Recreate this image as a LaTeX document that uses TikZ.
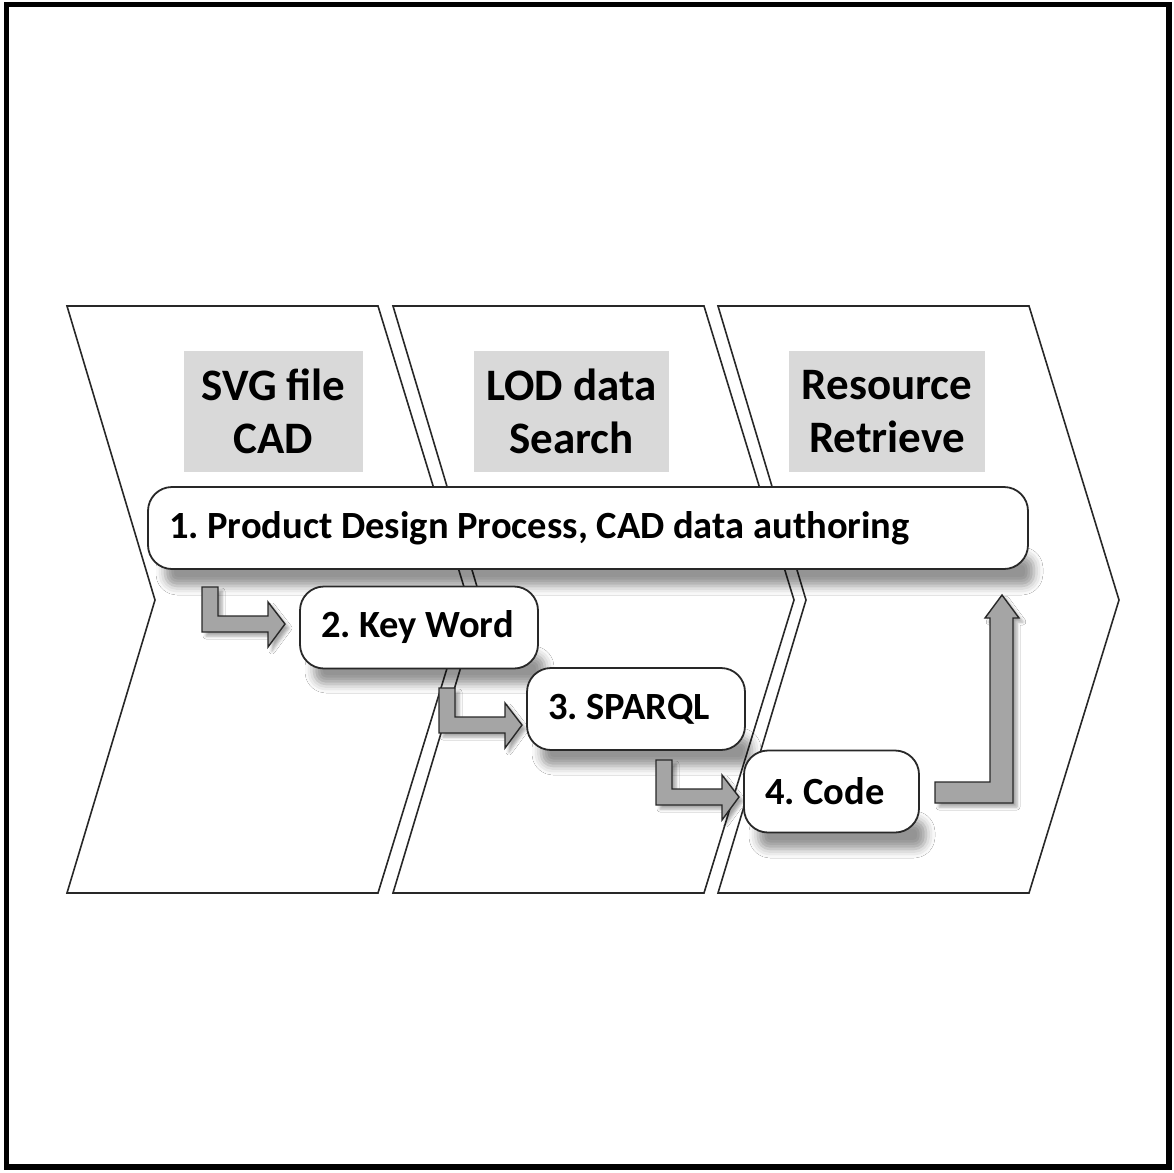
\documentclass[tikz,border=0pt]{standalone}
\usepackage{fontspec}
\setmainfont{Carlito}
\usetikzlibrary{shadows.blur}
\definecolor{hdrgray}{RGB}{217,217,217}
\definecolor{arrgray}{RGB}{165,165,165}
\definecolor{edgec}{RGB}{40,40,40}
\begin{document}
\begin{tikzpicture}[x=1pt,y=-1pt,
  chev/.style={draw=edgec, line width=1.6pt, fill=white, line join=miter},
  hdr/.style={fill=hdrgray, minimum height=121pt, inner sep=0pt, align=center, font=\fontsize{45}{53}\selectfont\bfseries},
  stepbox/.style={draw=edgec, line width=1.8pt, fill=white, rounded corners=24pt, minimum height=82pt, inner xsep=21pt, inner ysep=0pt, align=flush left, font=\fontsize{38.5}{46}\selectfont\bfseries\frenchspacing},
  boxshadow/.style={blur shadow={shadow xshift=0pt, shadow yshift=0pt, shadow blur radius=9pt, shadow opacity=42}, rounded corners=12pt},
  barrow/.style={draw=edgec, line width=1.4pt, fill=arrgray, line join=miter, blur shadow={shadow xshift=4pt, shadow yshift=-4pt, shadow blur radius=3pt, shadow opacity=35}}
]
\useasboundingbox (0,0) rectangle (1173,1173);
\fill[white] (0,0) rectangle (1173,1173);
\draw[line width=5.5pt] (6.5,4.5) rectangle (1169,1167);

% chevrons
\foreach \X in {67,393,718}{
  \draw[chev] (\X,306) -- ({\X+311},306) -- ({\X+401},600) -- ({\X+311},893) -- (\X,893) -- ({\X+88},600) -- cycle;
}

% header labels
\node[hdr, minimum width=179pt] (h1) at (273.5,411.5) {SVG file\\CAD};
\node[hdr, minimum width=195pt] (h2) at (571.5,411.5) {LOD data\\Search};
\node[hdr, minimum width=196pt] (h3) at (887,411.5) {Resource\\Retrieve};

% step boxes and arrows
\path[boxshadow] (165,556) rectangle (1034,586);
\node[stepbox, text width=838pt] (b1) at (588,528) {\mbox{1. Product Design Process, CAD data authoring}};
\draw[barrow, shift={(202,587)}] (0,0) -- (16,0) -- (16,29) -- (66,29) -- (66,15) -- (83,37) -- (66,60) -- (66,45) -- (0,45) -- cycle;
\path[boxshadow] (314,655) rectangle (545,684);
\node[stepbox, text width=196pt] (b2) at (419,627.5) {\mbox{2. Key Word}};
\draw[barrow, shift={(439,688)}] (0,0) -- (16,0) -- (16,29) -- (66,29) -- (66,15) -- (83,37) -- (66,60) -- (66,45) -- (0,45) -- cycle;
\path[boxshadow] (541,737) rectangle (752,766);
\node[stepbox, text width=176pt] (b3) at (636,709) {\mbox{3. SPARQL}};
\draw[barrow, shift={(656,760)}] (0,0) -- (16,0) -- (16,29) -- (66,29) -- (66,15) -- (83,37) -- (66,60) -- (66,45) -- (0,45) -- cycle;
\path[boxshadow] (758,820) rectangle (926,849);
\node[stepbox, text width=133pt] (b4) at (831.5,791.5) {\mbox{4. Code}};
\draw[barrow] (935,782) -- (990,782) -- (990,618) -- (985,618) -- (1002,595) -- (1019,618) -- (1013,618) -- (1013,803) -- (935,803) -- cycle;
\end{tikzpicture}
\end{document}
